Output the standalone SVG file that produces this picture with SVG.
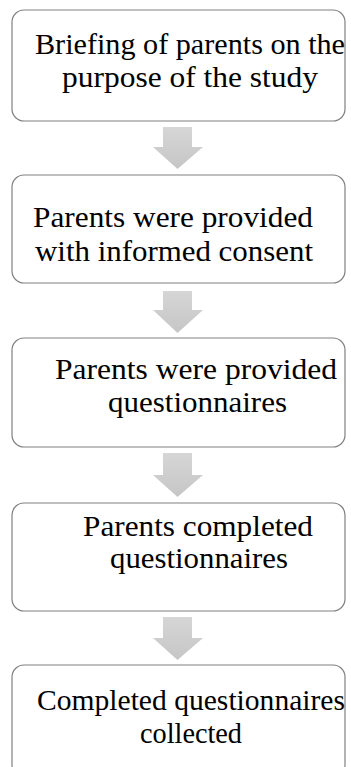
<svg xmlns="http://www.w3.org/2000/svg" width="351" height="767" viewBox="0 0 351 767">
<defs>
<style>
.box{fill:#ffffff;stroke:#808080;stroke-width:1.2}
.t{font-family:"Liberation Serif","Times New Roman",serif;font-size:30px;fill:#000000}
.arr{fill:url(#g)}
</style>
<linearGradient id="g" x1="0" y1="0" x2="0" y2="1">
<stop offset="0" stop-color="#d6d6d6"/>
<stop offset="1" stop-color="#c6c6c6"/>
</linearGradient>
</defs>
<rect width="351" height="767" fill="#ffffff"/>
<g id="connectors">
<polygon class="arr" points="163,127 192,127 192,147 203,147 177.5,169 153,147 163,147"/>
<polygon class="arr" points="163,291 192,291 192,310 203,310 177.5,333 153,310 163,310"/>
<polygon class="arr" points="163,453 192,453 192,475 203,475 177.5,497 153,475 163,475"/>
<polygon class="arr" points="163,617 192,617 192,638 203,638 177.5,660 153,638 163,638"/>
</g>
<g id="node1">
<rect class="box" x="12" y="10" width="333" height="111" rx="12"/>
<text class="t" x="35" y="54" textLength="310" lengthAdjust="spacingAndGlyphs">Briefing of parents on the</text>
<text class="t" x="62" y="87" textLength="256" lengthAdjust="spacingAndGlyphs">purpose of the study</text>
</g>
<g id="node2">
<rect class="box" x="12" y="175" width="333" height="108" rx="12"/>
<text class="t" x="33" y="227" textLength="280" lengthAdjust="spacingAndGlyphs">Parents were provided</text>
<text class="t" x="35" y="261" textLength="278" lengthAdjust="spacingAndGlyphs">with informed consent</text>
</g>
<g id="node3">
<rect class="box" x="12" y="338" width="333" height="109" rx="12"/>
<text class="t" x="55" y="379" textLength="282" lengthAdjust="spacingAndGlyphs">Parents were provided</text>
<text class="t" x="108" y="412" textLength="179" lengthAdjust="spacingAndGlyphs">questionnaires</text>
</g>
<g id="node4">
<rect class="box" x="12" y="503" width="333" height="108" rx="12"/>
<text class="t" x="83" y="536" textLength="230" lengthAdjust="spacingAndGlyphs">Parents completed</text>
<text class="t" x="110" y="568" textLength="178" lengthAdjust="spacingAndGlyphs">questionnaires</text>
</g>
<g id="node5">
<rect class="box" x="12" y="665" width="333" height="112" rx="12"/>
<text class="t" x="37" y="710" textLength="308" lengthAdjust="spacingAndGlyphs">Completed questionnaires</text>
<text class="t" x="140" y="743" textLength="102" lengthAdjust="spacingAndGlyphs">collected</text>
</g>
</svg>
